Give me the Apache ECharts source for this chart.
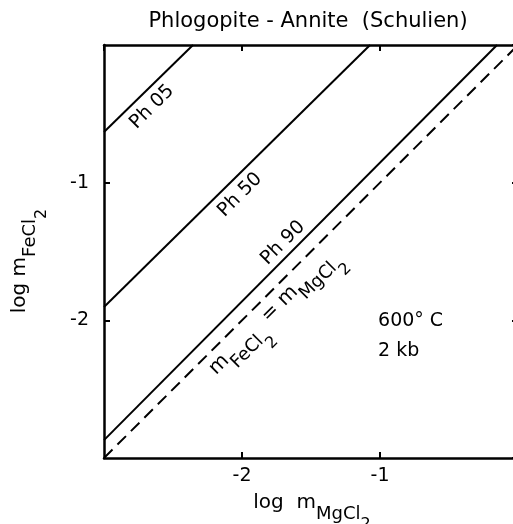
<!DOCTYPE html>
<html>
<head>
<meta charset="utf-8">
<script src="https://cdn.jsdelivr.net/npm/echarts@6/dist/echarts.min.js"></script>
<style>
  html, body { margin: 0; padding: 0; background: #fff; }
  #chart { width: 513px; height: 524px; }
</style>
</head>
<body>
<div id="chart"></div>
<script>
// axis range (log units)
const axisMin = -3;
const axisMax = 0;
const axisStep = 1;

// iso-composition lines (start on left edge, end on top edge)
const curveNames = ['Ph 05', 'Ph 50', 'Ph 90'];
const curveStart = [[-3, -0.632], [-3, -1.903], [-3, -2.87]];
const curveEnd = [[-2.355, 0], [-1.072, 0], [-0.152, 0]];
const curveLabelAt = [[-2.652, -0.45], [-2.014, -1.089], [-1.703, -1.438]];

// mFeCl2 = mMgCl2 reference line
const equalLine = [[-3, -3], [0, 0]];
const equalLabelAt = [-1.725, -1.983];

// run conditions
const conditions = ['600° C', '2 kb'];
const conditionAt = [[-1.014, -2.004], [-1.014, -2.222]];

const font = 'DejaVu Sans';
const rich = {
  m: { fontFamily: font, fontSize: 20, color: '#000', verticalAlign: 'top' },
  s: { fontFamily: font, fontSize: 18, color: '#000', verticalAlign: 'top', padding: [12, 0, 0, 0] },
  s2: { fontFamily: font, fontSize: 16, color: '#000', verticalAlign: 'top', padding: [24, 0, 0, 0] }
};

const chart = echarts.init(document.getElementById('chart'));

const axisCommon = {
  type: 'value',
  min: axisMin,
  max: axisMax,
  interval: axisStep,
  splitLine: { show: false },
  axisLine: { show: true, onZero: false, lineStyle: { color: '#000', width: 2.5 } },
  axisTick: { show: true, inside: true, length: 6, lineStyle: { color: '#000', width: 2 } }
};

const lineSeries = curveNames.map((name, i) => ({
  type: 'line',
  name: name,
  data: [curveStart[i], curveEnd[i]],
  symbol: 'none',
  silent: true,
  lineStyle: { color: '#000', width: 2 }
}));

lineSeries.push({
  type: 'line',
  name: 'equal',
  data: equalLine,
  symbol: 'none',
  silent: true,
  lineStyle: { color: '#000', width: 2, type: [12, 7] }
});

const labelData = curveNames.map((name, i) => ({
  value: curveLabelAt[i],
  label: { formatter: name, rotate: 45, color: '#000' }
}));
labelData.push({
  value: equalLabelAt,
  label: { formatter: '{m|m}{s|FeCl}{s2|2}{m| = m}{s|MgCl}{s2|2}', rotate: 45, rich: rich }
});
conditions.forEach((txt, i) => {
  labelData.push({
    value: conditionAt[i],
    label: { formatter: txt, align: 'left', color: '#000' }
  });
});

const option = {
  backgroundColor: '#fff',
  animation: false,
  grid: { left: 104, right: -5, top: 45, bottom: 66, containLabel: false, outerBoundsMode: 'none' },
  xAxis: [
    Object.assign({}, axisCommon, {
      position: 'bottom',
      axisLabel: {
        show: true, margin: 9, showMinLabel: false, showMaxLabel: false,
        color: '#000', fontFamily: font, fontSize: 19
      }
    }),
    Object.assign({}, axisCommon, { position: 'top', axisLabel: { show: false } })
  ],
  yAxis: [
    Object.assign({}, axisCommon, {
      position: 'left',
      axisLabel: {
        show: true, margin: 15, showMinLabel: false, showMaxLabel: false,
        color: '#000', fontFamily: font, fontSize: 19
      }
    }),
    Object.assign({}, axisCommon, { position: 'right', axisLabel: { show: false } })
  ],
  series: lineSeries.concat([{
    type: 'scatter',
    data: labelData,
    symbolSize: 0,
    silent: true,
    itemStyle: { opacity: 1 },
    label: {
      show: true,
      position: 'inside',
      color: '#000',
      opacity: 1,
      textBorderWidth: 0,
      fontFamily: font,
      fontSize: 19
    }
  }]),
  graphic: [
    {
      type: 'text', x: 308, y: 22, silent: true,
      style: {
        text: 'Phlogopite - Annite  (Schulien)', fill: '#000',
        font: '21px "DejaVu Sans"', align: 'center', verticalAlign: 'middle'
      }
    },
    {
      type: 'text', x: 312, y: 513, silent: true,
      style: {
        text: '{m|log  m}{s|MgCl}{s2|2}', rich: rich,
        align: 'center', verticalAlign: 'middle'
      }
    },
    {
      type: 'text', x: 29.5, y: 261, rotation: Math.PI / 2, silent: true,
      style: {
        text: '{m|log m}{s|FeCl}{s2|2}', rich: rich,
        align: 'center', verticalAlign: 'middle'
      }
    }
  ]
};

chart.setOption(option);
</script>
</body>
</html>
